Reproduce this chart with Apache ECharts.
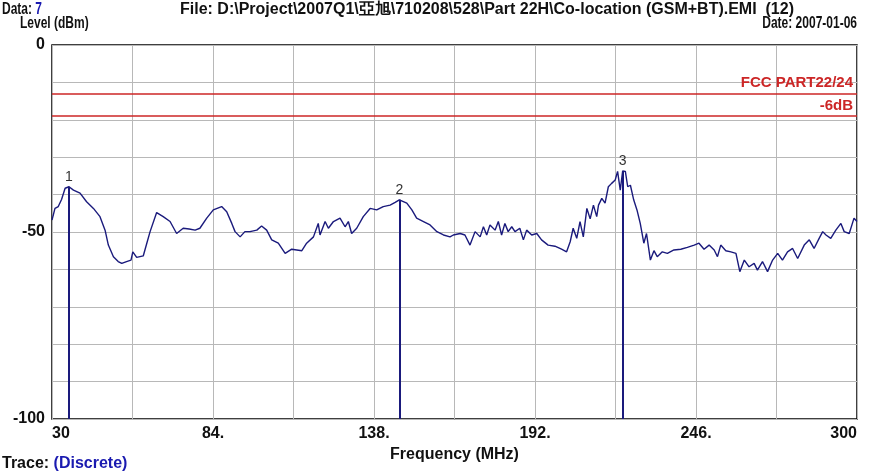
<!DOCTYPE html>
<html>
<head>
<meta charset="utf-8">
<script src="https://cdn.jsdelivr.net/npm/echarts@6/dist/echarts.min.js"></script>
<style>
  html, body { margin: 0; padding: 0; background: #fff; }
  #chart { width: 872px; height: 472px; }
</style>
</head>
<body>
<div id="chart"></div>
<script>
// Measured emission trace (frequency in MHz, level in dBm)
const traceFreq = [
  30.0, 31.0, 32.1, 33.2, 34.4, 35.7, 37.2, 39.4, 41.6, 43.9, 46.1, 47.8, 48.9, 50.6, 52.2, 53.4,
  55.0, 56.5, 57.1, 58.4, 60.6, 61.8, 62.9, 65.1, 67.3, 69.6, 71.8, 74.0, 76.0, 78.0, 79.6, 81.9,
  84.1, 86.9, 88.6, 90.3, 91.4, 93.1, 94.7, 96.4, 98.7, 100.3, 102.0, 103.7, 105.9, 108.2, 110.4,
  113.8, 115.4, 117.7, 119.3, 119.9, 121.6, 122.7, 124.4, 126.6, 128.3, 129.4, 130.5, 132.2, 134.4,
  136.7, 138.9, 141.1, 143.4, 145.1, 146.5, 149.0, 150.7, 152.3, 154.6, 156.8, 159.1, 161.3, 163.5,
  164.6, 165.2, 166.9, 168.5, 170.2, 171.9, 173.6, 174.7, 175.8, 176.9, 178.6, 179.7, 180.8, 181.9,
  183.0, 184.2, 185.3, 186.9, 188.1, 189.2, 190.9, 192.6, 194.2, 196.4, 198.7, 200.9, 202.6, 203.8,
  204.8, 206.0, 207.1, 208.2, 209.4, 210.5, 211.6, 212.7, 213.3, 214.4, 215.5, 216.6, 217.7, 218.9,
  219.7, 220.6, 221.4, 222.3, 223.1, 224.0, 225.1, 226.2, 227.3, 228.5, 229.4, 230.2, 230.7, 231.9,
  233.0, 234.7, 236.4, 238.6, 240.9, 243.1, 245.4, 247.0, 248.7, 250.4, 252.1, 253.2, 254.3, 256.0,
  257.7, 259.4, 260.7, 262.2, 263.8, 265.5, 266.6, 268.3, 270.0, 271.7, 273.4, 275.0, 276.7, 278.4,
  280.1, 282.3, 284.0, 285.6, 287.3, 288.5, 289.6, 291.2, 292.9, 294.6, 295.7, 297.4, 299.0, 300.0
];
const traceLevel = [
  -46.8, -43.7, -43.2, -41.3, -38.3, -37.9, -38.8, -39.6, -41.9, -43.7, -45.9, -49.5, -53.5, -56.6, -57.9, -58.4,
  -57.9, -57.5, -55.3, -56.8, -56.4, -53.0, -49.9, -44.8, -45.9, -47.2, -50.4, -49.0, -49.2, -49.5, -49.0, -46.3,
  -44.1, -43.2, -44.6, -47.7, -49.9, -51.3, -49.9, -49.9, -49.5, -48.4, -49.5, -52.1, -53.0, -55.7, -54.6,
  -55.0, -53.0, -51.3, -47.7, -50.8, -47.2, -49.0, -47.2, -46.3, -48.6, -47.2, -50.4, -49.0, -45.9,
  -43.7, -44.1, -43.2, -42.8, -42.1, -41.4, -42.3, -44.1, -46.3, -47.2, -48.1, -49.9, -50.8, -51.3,
  -50.8, -51.3, -50.4, -50.8, -53.5, -49.9, -51.3, -48.6, -50.8, -48.1, -49.5, -47.2, -50.8, -47.7,
  -49.9, -48.6, -49.9, -49.0, -52.1, -49.5, -50.8, -50.4, -52.1, -53.5, -53.8, -54.6, -55.3, -52.6,
  -49.0, -51.7, -47.2, -51.3, -43.7, -46.5, -42.8, -45.9, -42.8, -41.0, -42.3, -37.9, -37.0, -36.1,
  -33.8, -38.8, -33.7, -33.8, -37.9, -37.5, -41.4, -44.1, -47.7, -53.0, -50.4, -54.8, -57.5, -55.0,
  -56.6, -55.3, -55.7, -54.8, -54.6, -54.1, -53.5, -53.0, -54.6, -53.5, -54.8, -56.6, -53.5, -55.0,
  -55.3, -55.7, -60.6, -57.5, -59.3, -58.4, -60.2, -57.9, -60.6, -57.5, -55.7, -57.5, -55.3, -54.4,
  -57.1, -53.5, -52.1, -54.4, -51.7, -49.9, -50.8, -51.7, -49.5, -47.7, -49.9, -50.4, -46.3, -47.2
];

// Peak markers
const markerNames = ['1', '2', '3'];
const markerFreq = [35.7, 146.5, 221.4];
const markerLevel = [-37.9, -41.4, -33.7];

// Limit lines
const limitNames = ['FCC PART22/24', '-6dB'];
const limitLevel = [-13, -19];

// Axis ranges and labelled ticks
const freqMin = 30, freqMax = 300, freqStep = 27;
const levelMin = -100, levelMax = 0, levelStep = 10;
const freqTickLabels = { 30: '30', 84: '84.', 138: '138.', 192: '192.', 246: '246.', 300: '300' };
const levelTickLabels = { 0: '0', '-50': '-50', '-100': '-100' };

const FONT = '"Liberation Sans", Arial, sans-serif';
const NAVY = '#1a1a7c';
const RED = '#cc2626';
const INK = '#111';
const BLUE_TEXT = '#1a1ab0';

const chart = echarts.init(document.getElementById('chart'), null, { renderer: 'canvas' });

// Condensed header lines (narrow bold lettering)
const NARROW = 0.75;
function headerText(text, x, align, extra) {
  return Object.assign({
    type: 'text', x: x, y: 0, scaleX: NARROW, silent: true,
    style: Object.assign({
      text: text, align: align, verticalAlign: 'top',
      font: 'bold 16px ' + FONT, fill: INK
    }, extra || {})
  });
}

chart.setOption({
  backgroundColor: '#fff',
  animation: false,
  graphic: [
    Object.assign(headerText('Data: {v|7}', 2, 'left', {
      rich: { v: { font: 'bold 16px ' + FONT, fill: BLUE_TEXT } }
    }), { y: 2 }),
    Object.assign(headerText('Level (dBm)', 20, 'left'), { y: 16 }),
    Object.assign(headerText('Date: 2007-01-06', 857, 'right'), { y: 16 }),
    {
      type: 'text', x: 180, y: 2, silent: true,
      style: {
        text: 'File: D:\\Project\\2007Q1\\亞旭\\710208\\528\\Part 22H\\Co-location (GSM+BT).EMI  (12)',
        align: 'left', verticalAlign: 'top', font: 'bold 16px ' + FONT, fill: INK
      }
    },
    {
      type: 'text', x: 2, y: 456, silent: true,
      style: {
        text: 'Trace: {v|(Discrete)}', align: 'left', verticalAlign: 'top',
        font: 'bold 16px ' + FONT, fill: INK,
        rich: { v: { font: 'bold 16px ' + FONT, fill: BLUE_TEXT } }
      }
    }
  ],
  grid: {
    left: 52, top: 45, width: 805, height: 374,
    show: true, borderColor: '#000', borderWidth: 1.5, backgroundColor: '#fff'
  },
  xAxis: {
    type: 'value', min: freqMin, max: freqMax, interval: freqStep,
    name: 'Frequency (MHz)', nameLocation: 'middle', nameGap: 25,
    nameTextStyle: { fontFamily: FONT, fontSize: 16, fontWeight: 'bold', color: INK },
    axisLine: { show: false }, axisTick: { show: false },
    splitLine: { show: true, lineStyle: { color: '#b8b8b8', width: 1 } },
    axisLabel: {
      margin: 7, fontFamily: FONT, fontSize: 16, fontWeight: 'bold', color: INK,
      alignMinLabel: 'left', alignMaxLabel: 'right',
      formatter: v => freqTickLabels[Math.round(v)] || ''
    }
  },
  yAxis: {
    type: 'value', min: levelMin, max: levelMax, interval: levelStep,
    axisLine: { show: false }, axisTick: { show: false },
    splitLine: { show: true, lineStyle: { color: '#b8b8b8', width: 1 } },
    axisLabel: {
      margin: 7, fontFamily: FONT, fontSize: 16, fontWeight: 'bold', color: INK,
      formatter: v => levelTickLabels[Math.round(v)] || ''
    }
  },
  series: [
    {
      name: 'limits', type: 'line', data: [], silent: true,
      markLine: {
        silent: true, symbol: 'none',
        lineStyle: { color: RED, width: 1.5, type: 'solid' },
        label: {
          show: true, position: 'insideEndTop', formatter: '{b}', distance: [4, 3],
          color: RED, fontFamily: FONT, fontSize: 15, fontWeight: 'bold'
        },
        data: limitLevel.map((y, i) => ({ name: limitNames[i], yAxis: y }))
      }
    },
    {
      name: 'trace', type: 'line', showSymbol: false, silent: true,
      lineStyle: { color: NAVY, width: 1.4 },
      data: traceFreq.map((f, i) => [f, traceLevel[i]])
    },
    {
      name: 'markers', type: 'line', data: [], silent: true,
      markLine: {
        silent: true, symbol: 'none',
        lineStyle: { color: NAVY, width: 2, type: 'solid' },
        label: {
          show: true, position: 'start', distance: 3, formatter: p => p.name,
          color: '#333', fontFamily: FONT, fontSize: 14
        },
        data: markerFreq.map((f, i) => [
          { name: markerNames[i], coord: [f, markerLevel[i]] },
          { coord: [f, levelMin] }
        ])
      }
    }
  ]
});
</script>
</body>
</html>
